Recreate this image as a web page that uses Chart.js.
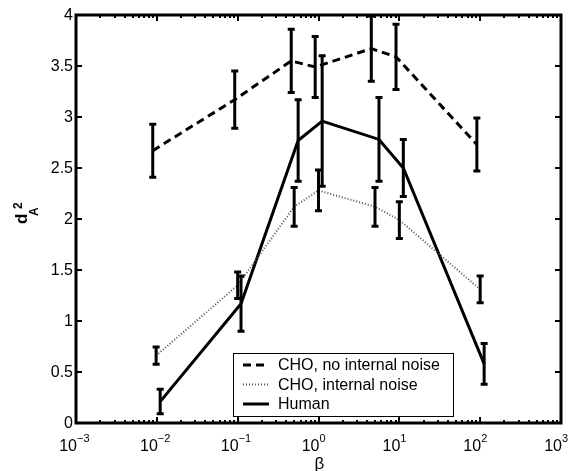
<!DOCTYPE html>
<html>
<head>
<meta charset="utf-8">
<script src="https://cdn.jsdelivr.net/npm/chart.js@4/dist/chart.umd.min.js"></script>
<style>
  html, body { margin: 0; padding: 0; background: #fff; }
  canvas { display: block; }
</style>
</head>
<body>
<canvas id="dprime" width="574" height="471"></canvas>
<script>
// series values (beta on log axis, d_A^2 with error half-widths)
const legendLabels = ['CHO, no internal noise', 'CHO, internal noise', 'Human'];

const betaNoNoise = [0.0089, 0.092, 0.46, 0.91, 4.5, 9.1, 91];
const dNoNoise = [2.67, 3.17, 3.55, 3.49, 3.67, 3.59, 2.73];
const errNoNoise = [0.26, 0.28, 0.31, 0.30, 0.32, 0.32, 0.26];

const betaNoise = [0.0098, 0.10, 0.50, 1.0, 5.0, 10, 100];
const dNoise = [0.66, 1.35, 2.12, 2.28, 2.12, 1.99, 1.31];
const errNoise = [0.085, 0.13, 0.19, 0.20, 0.19, 0.18, 0.13];

const betaHuman = [0.011, 0.11, 0.56, 1.11, 5.6, 11.2, 112];
const dHuman = [0.21, 1.17, 2.77, 2.96, 2.78, 2.50, 0.58];
const errHuman = [0.12, 0.27, 0.40, 0.64, 0.41, 0.28, 0.20];

const xTickExps = [-3, -2, -1, 0, 1, 2, 3];
const yTicks = [0, 0.5, 1, 1.5, 2, 2.5, 3, 3.5, 4];

const toPoints = (xs, ys) => xs.map((x, i) => ({ x: x, y: ys[i] }));
const errs = [errNoNoise, errNoise, errHuman];

// error bars drawn through the chart scales
const errorBars = {
    id: 'errorBars',
    afterDatasetsDraw(chart) {
        const ctx = chart.ctx;
        const xs = chart.scales.x, ys = chart.scales.y;
        ctx.save();
        ctx.strokeStyle = '#000';
        ctx.lineWidth = 3;
        ctx.lineCap = 'butt';
        chart.data.datasets.forEach((ds, di) => {
            ds.data.forEach((p, i) => {
                const px = xs.getPixelForValue(p.x);
                const top = ys.getPixelForValue(p.y + errs[di][i]);
                const bot = ys.getPixelForValue(p.y - errs[di][i]);
                ctx.beginPath();
                ctx.moveTo(px, top); ctx.lineTo(px, bot);
                ctx.moveTo(px - 3.5, top); ctx.lineTo(px + 3.5, top);
                ctx.moveTo(px - 3.5, bot); ctx.lineTo(px + 3.5, bot);
                ctx.stroke();
            });
        });
        ctx.restore();
    }
};

// frame, ticks, labels and legend in the old matlab style
const frame = {
    id: 'frame',
    afterDraw(chart) {
        const ctx = chart.ctx;
        const a = chart.chartArea;
        const xs = chart.scales.x, ys = chart.scales.y;
        ctx.save();
        ctx.strokeStyle = '#000';
        ctx.fillStyle = '#000';

        // ticks
        ctx.lineWidth = 2;
        ctx.beginPath();
        for (let e = -3; e < 3; e++) {
            for (let m = 2; m <= 9; m++) {
                const px = Math.round(xs.getPixelForValue(m * Math.pow(10, e)));
                ctx.moveTo(px, a.bottom); ctx.lineTo(px, a.bottom - 3);
                ctx.moveTo(px, a.top); ctx.lineTo(px, a.top + 3);
            }
        }
        xTickExps.forEach(e => {
            const px = Math.round(xs.getPixelForValue(Math.pow(10, e)));
            ctx.moveTo(px, a.bottom); ctx.lineTo(px, a.bottom - 6);
            ctx.moveTo(px, a.top); ctx.lineTo(px, a.top + 6);
        });
        yTicks.forEach(v => {
            const py = Math.round(ys.getPixelForValue(v));
            ctx.moveTo(a.left, py); ctx.lineTo(a.left + 6, py);
            ctx.moveTo(a.right, py); ctx.lineTo(a.right - 6, py);
        });
        ctx.stroke();

        // frame
        ctx.lineWidth = 3;
        ctx.strokeRect(a.left, a.top, a.right - a.left, a.bottom - a.top);

        // y tick labels
        ctx.font = '16px "Liberation Sans", Arial, sans-serif';
        ctx.textAlign = 'right';
        ctx.textBaseline = 'middle';
        yTicks.forEach(v => {
            ctx.fillText(String(v), a.left - 3, ys.getPixelForValue(v) + 1);
        });

        // x tick labels 10^e
        xTickExps.forEach(e => {
            const px = xs.getPixelForValue(Math.pow(10, e));
            ctx.font = '16px "Liberation Sans", Arial, sans-serif';
            ctx.textAlign = 'right';
            ctx.textBaseline = 'alphabetic';
            ctx.fillText('10', px + 1, a.bottom + 28);
            ctx.font = '11px "Liberation Sans", Arial, sans-serif';
            ctx.textAlign = 'left';
            ctx.fillText(e < 0 ? '\u2212' + (-e) : String(e), px + 1, a.bottom + 19);
        });

        // axis titles
        ctx.font = '17px "Liberation Sans", Arial, sans-serif';
        ctx.textAlign = 'center';
        ctx.textBaseline = 'alphabetic';
        ctx.fillText('\u03b2', xs.getPixelForValue(1) + 1, a.bottom + 46);

        ctx.save();
        ctx.translate(27, 224);
        ctx.rotate(-Math.PI / 2);
        ctx.textAlign = 'left';
        ctx.font = 'bold 17px "Liberation Sans", Arial, sans-serif';
        ctx.fillText('d', 0, 0);
        ctx.font = 'bold 12px "Liberation Sans", Arial, sans-serif';
        ctx.fillText('A', 8, 11);
        ctx.fillText('2', 15, -5);
        ctx.restore();

        // legend box
        const lx = 233, ly = 353, lw = 220, lh = 63;
        ctx.fillStyle = '#fff';
        ctx.fillRect(lx, ly, lw, lh);
        ctx.lineWidth = 1;
        ctx.strokeStyle = '#000';
        ctx.strokeRect(lx + 0.5, ly + 0.5, lw, lh);
        ctx.font = '16px "Liberation Sans", Arial, sans-serif';
        ctx.textAlign = 'left';
        ctx.textBaseline = 'middle';
        chart.data.datasets.forEach((ds, i) => {
            const ry = ly + 12 + i * 19.5;
            ctx.save();
            ctx.strokeStyle = ds.borderColor;
            ctx.lineWidth = ds.borderWidth;
            ctx.setLineDash(ds.borderDash || []);
            ctx.beginPath();
            ctx.moveTo(lx + 10, ry); ctx.lineTo(lx + 36, ry);
            ctx.stroke();
            ctx.restore();
            ctx.fillStyle = '#000';
            ctx.fillText(legendLabels[i], lx + 45, ry + 1);
        });
        ctx.restore();
    }
};

new Chart(document.getElementById('dprime').getContext('2d'), {
    type: 'line',
    data: {
        datasets: [{
            label: legendLabels[0],
            data: toPoints(betaNoNoise, dNoNoise),
            borderColor: '#000',
            borderWidth: 3,
            borderDash: [8, 5],
            pointRadius: 0,
            fill: false,
            tension: 0
        }, {
            label: legendLabels[1],
            data: toPoints(betaNoise, dNoise),
            borderColor: '#555',
            borderWidth: 2,
            borderDash: [1, 2],
            pointRadius: 0,
            fill: false,
            tension: 0
        }, {
            label: legendLabels[2],
            data: toPoints(betaHuman, dHuman),
            borderColor: '#000',
            borderWidth: 3,
            pointRadius: 0,
            fill: false,
            tension: 0
        }]
    },
    options: {
        responsive: false,
        animation: false,
        layout: {
            padding: { left: 76, right: 13, top: 15, bottom: 48 }
        },
        plugins: {
            legend: { display: false },
            tooltip: { enabled: false }
        },
        scales: {
            x: {
                type: 'logarithmic',
                min: 0.001,
                max: 1000,
                display: false
            },
            y: {
                type: 'linear',
                min: 0,
                max: 4,
                display: false
            }
        }
    },
    plugins: [errorBars, frame]
});
</script>
</body>
</html>
